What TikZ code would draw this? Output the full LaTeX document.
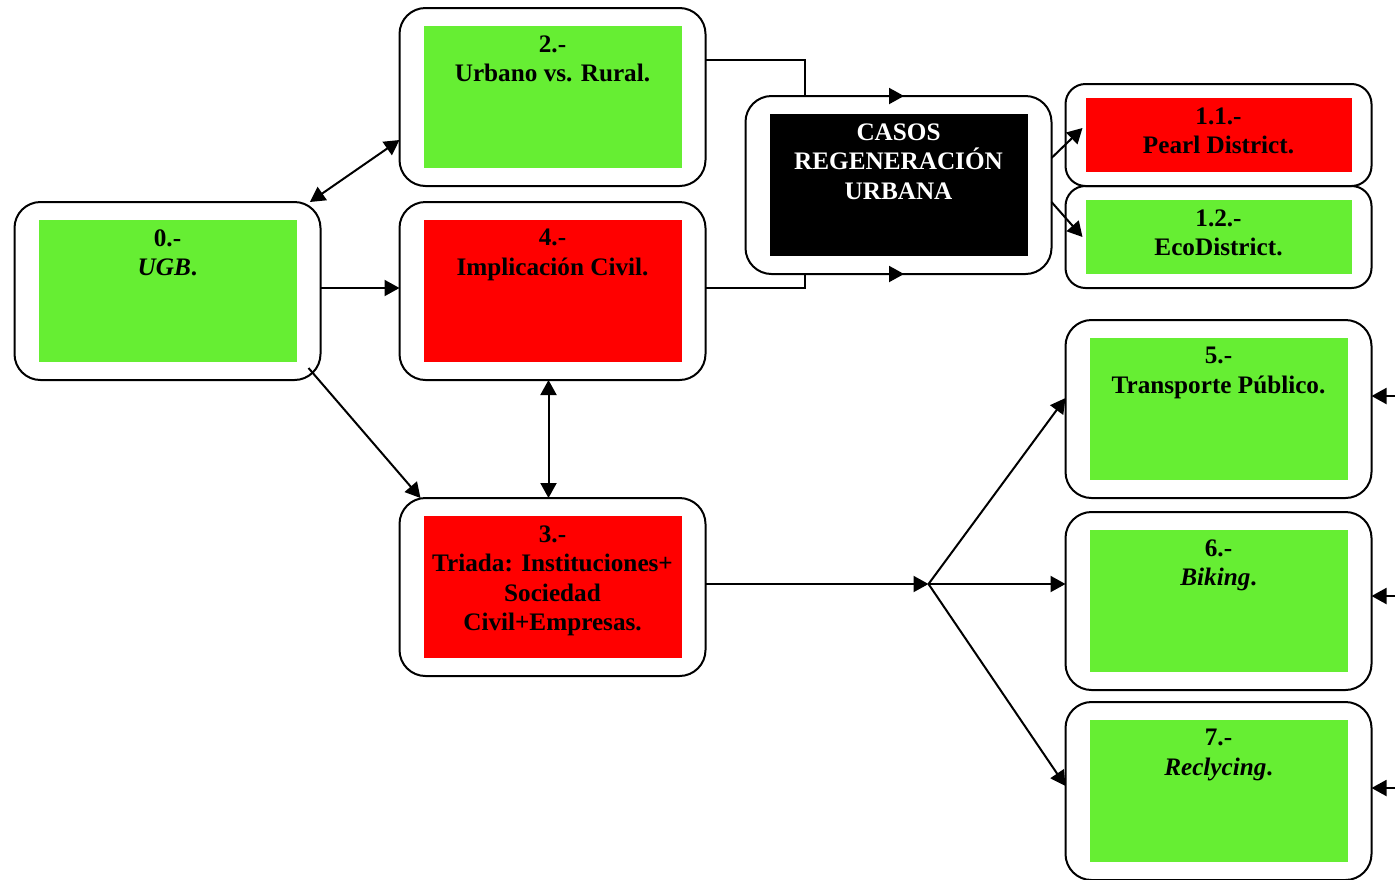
\documentclass[tikz,border=0pt]{standalone}
\usepackage{fontspec}
\setmainfont{Liberation Serif}
\usetikzlibrary{arrows.meta,positioning,calc}
\definecolor{leaf}{HTML}{66EE33}
\definecolor{alert}{HTML}{FF0000}

\begin{document}
\begin{tikzpicture}[
  x=0.5pt, y=-0.5pt,
  outerbox/.style={draw, line width=1pt, rounded corners=13pt, minimum width=153pt, minimum height=89pt, inner sep=0pt, outer sep=0pt},
  smallbox/.style={outerbox, rounded corners=10pt, minimum height=51pt},
  fillbox/.style={fill=#1, minimum width=129pt, minimum height=71pt, inner sep=0pt, outer sep=0pt},
  lbl/.style={anchor=north, inner sep=0pt, yshift=-4.5pt, align=center, font=\fontsize{12.6}{14.75}\selectfont\bfseries},
  arr/.style={-{Triangle[length=7.5pt, width=8pt]}, line width=1pt},
  dbl/.style={{Triangle[length=7.5pt, width=8pt]}-{Triangle[length=7.5pt, width=8pt]}, line width=1pt}
]
\useasboundingbox (0,0) rectangle (1395,879);

% frames
\node[outerbox] (b0) at (167.5,291) {};
\node[outerbox, right=39.5pt of b0] (b4) {};
\node[outerbox, above=8pt of b4] (b2) {};
\node[outerbox, below=59pt of b4] (b3) {};
\node[outerbox] (casos) at (898.5,185) {};
\node[smallbox] (b11) at (1218.5,135) {};
\node[smallbox, below=0pt of b11] (b12) {};
\node[outerbox] (b5) at (1218.5,409) {};
\node[outerbox, below=7pt of b5] (b6) {};
\node[outerbox, below=6pt of b6] (b7) {};

% coloured fields
\node[fillbox=leaf] (b0f) at (b0) {};
\node[fillbox=leaf] (b2f) at (b2) {};
\node[fillbox=alert] (b4f) at (b4) {};
\node[fillbox=alert] (b3f) at (b3) {};
\node[fillbox=black] (casosf) at (casos) {};
\node[fillbox=alert, minimum width=133pt, minimum height=37pt] (b11f) at (b11) {};
\node[fillbox=leaf, minimum width=133pt, minimum height=37pt] (b12f) at (b12) {};
\node[fillbox=leaf] (b5f) at (b5) {};
\node[fillbox=leaf] (b6f) at (b6) {};
\node[fillbox=leaf] (b7f) at (b7) {};

% texts
\node[lbl] at (b0f.north) {0.-\\\textit{UGB}.};
\node[lbl] at (b2f.north) {2.-\\Urbano vs. Rural.};
\node[lbl] at (b4f.north) {4.-\\Implicación Civil.};
\node[lbl] at (b3f.north) {3.-\\Triada: Instituciones+\\Sociedad\\Civil+Empresas.};
\node[lbl, text=white] at (casosf.north) {CASOS\\REGENERACIÓN\\URBANA};
\node[lbl] at (b11f.north) {1.1.-\\Pearl District.};
\node[lbl] at (b12f.north) {1.2.-\\EcoDistrict.};
\node[lbl] at (b5f.north) {5.-\\Transporte Público.};
\node[lbl] at (b6f.north) {6.-\\\textit{Biking}.};
\node[lbl] at (b7f.north) {7.-\\\textit{Reclycing}.};

\coordinate (fork) at ([shift={(111.5pt,1.5pt)}]b3.east);

% connectors
\draw[dbl] (b0.32.5) -- ([yshift=-21.5pt]b2.west);
\draw[arr] ([yshift=1.5pt]b0.east) -- ([yshift=1.5pt]b4.west);
\draw[arr] ([shift={(-6pt,6pt)}]b0.south east) -- ([xshift=10.5pt]b3.north west);
\draw[dbl] ([xshift=-2pt]b4.south) -- ([xshift=-2pt]b3.north);
\draw[arr] ([yshift=18.5pt]b2.east) -| ([xshift=-46.75pt]casos.north) -- ([xshift=2.75pt]casos.north);
\draw[arr] ([yshift=1.5pt]b4.east) -| ([xshift=-46.75pt]casos.south) -- ([xshift=2.75pt]casos.south);
\draw[arr] ([yshift=13.5pt]casos.east) -- ([shift={(-1.5pt,3.5pt)}]b11f.west);
\draw[arr] ([yshift=-8.5pt]casos.east) -- ([xshift=-1.5pt]b12f.west);
\draw[arr] ([yshift=1.5pt]b3.east) -- (fork);
\draw[arr] (fork) -- ([yshift=5.5pt]b5.west);
\draw[arr] (fork) -- (fork -| b6.west);
\draw[arr] (fork) -- ([yshift=2.5pt]b7.west);
\draw[arr] ([shift={(14pt,6.5pt)}]b5.east) -- ([yshift=6.5pt]b5.east);
\draw[arr] ([shift={(14pt,2.5pt)}]b6.east) -- ([yshift=2.5pt]b6.east);
\draw[arr] ([shift={(14pt,1.5pt)}]b7.east) -- ([yshift=1.5pt]b7.east);
\end{tikzpicture}
\end{document}
